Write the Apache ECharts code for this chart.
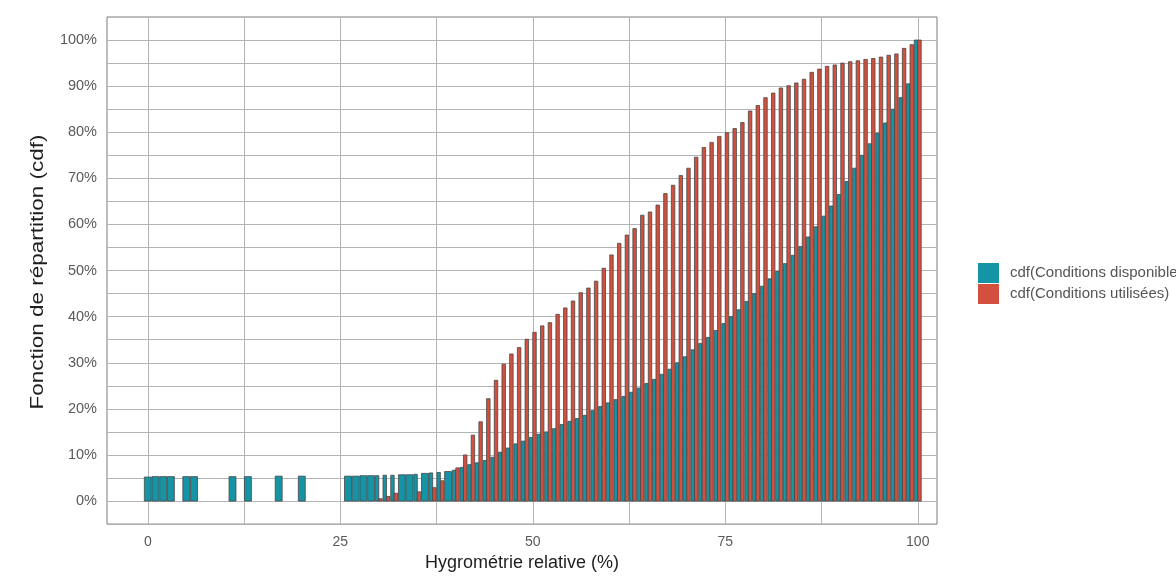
<!DOCTYPE html>
<html>
<head>
<meta charset="utf-8">
<script src="https://cdn.jsdelivr.net/npm/echarts@6/dist/echarts.min.js"></script>
<style>
  html, body { margin: 0; padding: 0; background: #ffffff; }
  #chart { width: 1176px; height: 577px; }
</style>
</head>
<body>
<div id="chart"></div>
<script>
// Hygrométrie relative (%) des conditions disponibles et leur fonction de répartition
const humDispo = [0, 1, 2, 3, 5, 6, 11, 13, 17, 20, 26, 27, 28, 29, 30, 31, 32, 33, 34, 35, 36, 37, 38, 39,
  40, 41, 42, 43, 44, 45, 46, 47, 48, 49, 50, 51, 52, 53, 54, 55, 56, 57, 58, 59,
  60, 61, 62, 63, 64, 65, 66, 67, 68, 69, 70, 71, 72, 73, 74, 75, 76, 77, 78, 79,
  80, 81, 82, 83, 84, 85, 86, 87, 88, 89, 90, 91, 92, 93, 94, 95, 96, 97, 98, 99, 100];
const cdfDispo = [5.2, 5.3, 5.3, 5.3, 5.3, 5.3, 5.3, 5.3, 5.4, 5.4, 5.4, 5.4, 5.5, 5.5, 5.5, 5.6, 5.6, 5.7, 5.7, 5.8, 6.0, 6.1, 6.2, 6.4,
  6.7, 7.3, 7.9, 8.3, 8.8, 9.5, 10.6, 11.5, 12.4, 13.0, 13.8, 14.5, 15.0, 15.7, 16.6, 17.3, 17.9, 18.6, 19.6, 20.5,
  21.3, 22.0, 22.7, 23.6, 24.5, 25.5, 26.4, 27.5, 28.6, 30.0, 31.3, 32.8, 34.2, 35.5, 37.0, 38.5, 40.0, 41.5, 43.3, 45.0,
  46.6, 48.2, 49.8, 51.5, 53.3, 55.2, 57.3, 59.5, 61.8, 64.0, 66.5, 69.3, 72.2, 75.0, 77.5, 79.8, 82.0, 85.0, 87.5, 90.5, 100];

// Hygrométrie relative (%) des conditions utilisées et leur fonction de répartition
const humUtil = [30, 31, 32, 35, 37, 38,
  40, 41, 42, 43, 44, 45, 46, 47, 48, 49, 50, 51, 52, 53, 54, 55, 56, 57, 58, 59,
  60, 61, 62, 63, 64, 65, 66, 67, 68, 69, 70, 71, 72, 73, 74, 75, 76, 77, 78, 79,
  80, 81, 82, 83, 84, 85, 86, 87, 88, 89, 90, 91, 92, 93, 94, 95, 96, 97, 98, 99, 100];
const cdfUtil = [0.5, 1.0, 1.7, 2.0, 2.9, 4.4,
  7.2, 10.0, 14.3, 17.2, 22.2, 26.2, 29.7, 31.9, 33.3, 35.1, 36.6, 38.0, 38.7, 40.5, 41.9, 43.4, 45.2, 46.2, 47.7, 50.5,
  53.4, 55.9, 57.7, 59.1, 62.0, 62.7, 64.2, 66.7, 68.5, 70.6, 72.2, 74.6, 76.7, 77.8, 79.1, 79.9, 80.8, 82.1, 84.6, 85.8,
  87.5, 88.5, 89.6, 90.1, 90.7, 91.5, 93.0, 93.7, 94.3, 94.6, 95.0, 95.3, 95.5, 95.8, 96.0, 96.3, 96.7, 97.0, 98.2, 99.0, 100];

// Graduations des axes et lignes de la grille
const xTicks = [0, 25, 50, 75, 100];
const xGrid = [0, 12.5, 25, 37.5, 50, 62.5, 75, 87.5, 100];
const yTicks = [0, 0.1, 0.2, 0.3, 0.4, 0.5, 0.6, 0.7, 0.8, 0.9, 1.0];
const yGrid = [0, 0.05, 0.1, 0.15, 0.2, 0.25, 0.3, 0.35, 0.4, 0.45, 0.5, 0.55, 0.6, 0.65, 0.7, 0.75,
  0.8, 0.85, 0.9, 0.95, 1.0];

const NAME_DISPO = 'cdf(Conditions disponibles)';
const NAME_UTIL = 'cdf(Conditions utilisées)';
const Y_TITLE = 'Fonction de répartition (cdf)';
const TEAL = '#1594a6';
const RED = '#d4503e';
const OUTLINE = '#464646';
const FONT = '"Liberation Sans", Arial, sans-serif';
const HALF = 0.45; // demi-largeur d'une paire de barres (unités d'hygrométrie)

const setDispo = new Set(humDispo);
const setUtil = new Set(humUtil);

// Barre esquivée : moitié gauche, moitié droite, ou pleine largeur quand l'autre groupe est absent
function barRect(api, part) {
  const x = api.value(0);
  const y = api.value(1);
  let a = x - HALF;
  let b = x + HALF;
  if (part === 'left') b = x;
  else if (part === 'right') a = x;
  const p0 = api.coord([a, y]);
  const p1 = api.coord([b, 0]);
  return {
    type: 'rect',
    shape: { x: p0[0], y: p0[1], width: p1[0] - p0[0], height: p1[1] - p0[1] },
    style: { fill: api.visual('color'), stroke: OUTLINE, lineWidth: 0.8 }
  };
}

const chart = echarts.init(document.getElementById('chart'), null, { renderer: 'canvas' });

chart.setOption({
  animation: false,
  backgroundColor: '#ffffff',
  textStyle: { fontFamily: FONT },
  grid: {
    left: 107, right: 239, top: 17, bottom: 49,
    show: true, borderColor: '#7a7a7a', borderWidth: 1, backgroundColor: '#ffffff'
  },
  legend: {
    data: [NAME_DISPO, NAME_UTIL],
    orient: 'vertical',
    left: 978, top: 263,
    padding: 0,
    itemWidth: 21, itemHeight: 20, itemGap: 1,
    icon: 'rect',
    selectedMode: false,
    itemStyle: { borderWidth: 0 },
    textStyle: { fontSize: 15, color: '#555555', fontFamily: FONT, padding: [0, 0, 0, 6] }
  },
  // titre de l'axe vertical, allongé dans le sens de lecture
  graphic: [{
    type: 'text',
    x: 38, y: 272,
    rotation: Math.PI / 2,
    scaleX: 1.25,
    silent: true,
    style: {
      text: Y_TITLE,
      font: '18px ' + FONT,
      fill: '#1e1e1e',
      align: 'center',
      verticalAlign: 'middle'
    }
  }],
  xAxis: {
    type: 'value',
    min: -5.3, max: 102.5,
    splitLine: { show: false },
    axisLine: { show: false },
    axisTick: { show: true, customValues: xTicks, length: 4, lineStyle: { color: '#7a7a7a' } },
    axisLabel: { customValues: xTicks, margin: 11, fontSize: 14, color: '#5a5a5a', fontFamily: FONT },
    name: 'Hygrométrie relative (%)',
    nameLocation: 'middle',
    nameGap: 29,
    nameTextStyle: { fontSize: 18, color: '#1e1e1e', fontFamily: FONT }
  },
  yAxis: {
    type: 'value',
    min: -0.05, max: 1.05,
    splitLine: { show: false },
    axisLine: { show: false },
    axisTick: { show: true, customValues: yTicks, length: 4, lineStyle: { color: '#7a7a7a' } },
    axisLabel: {
      customValues: yTicks, margin: 10, fontSize: 14.5, color: '#5a5a5a', fontFamily: FONT,
      formatter: v => Math.round(v * 100) + '%'
    }
  },
  series: [
    {
      // lignes de la grille, sous les barres
      type: 'line',
      name: 'grille',
      data: [],
      z: 1,
      silent: true,
      markLine: {
        z: 1,
        silent: true,
        animation: false,
        symbol: ['none', 'none'],
        label: { show: false },
        emphasis: { disabled: true },
        lineStyle: { color: '#b4b4b4', width: 1, type: 'solid' },
        data: xGrid.map(v => ({ xAxis: v })).concat(yGrid.map(v => ({ yAxis: v })))
      }
    },
    {
      type: 'custom',
      name: NAME_DISPO,
      z: 3,
      itemStyle: { color: TEAL },
      encode: { x: 0, y: 1 },
      data: humDispo.map((h, i) => [h, cdfDispo[i] / 100]),
      renderItem: (params, api) => barRect(api, setUtil.has(api.value(0)) ? 'left' : 'full')
    },
    {
      type: 'custom',
      name: NAME_UTIL,
      z: 3,
      itemStyle: { color: RED },
      encode: { x: 0, y: 1 },
      data: humUtil.map((h, i) => [h, cdfUtil[i] / 100]),
      renderItem: (params, api) => barRect(api, setDispo.has(api.value(0)) ? 'right' : 'full')
    }
  ]
});
</script>
</body>
</html>
